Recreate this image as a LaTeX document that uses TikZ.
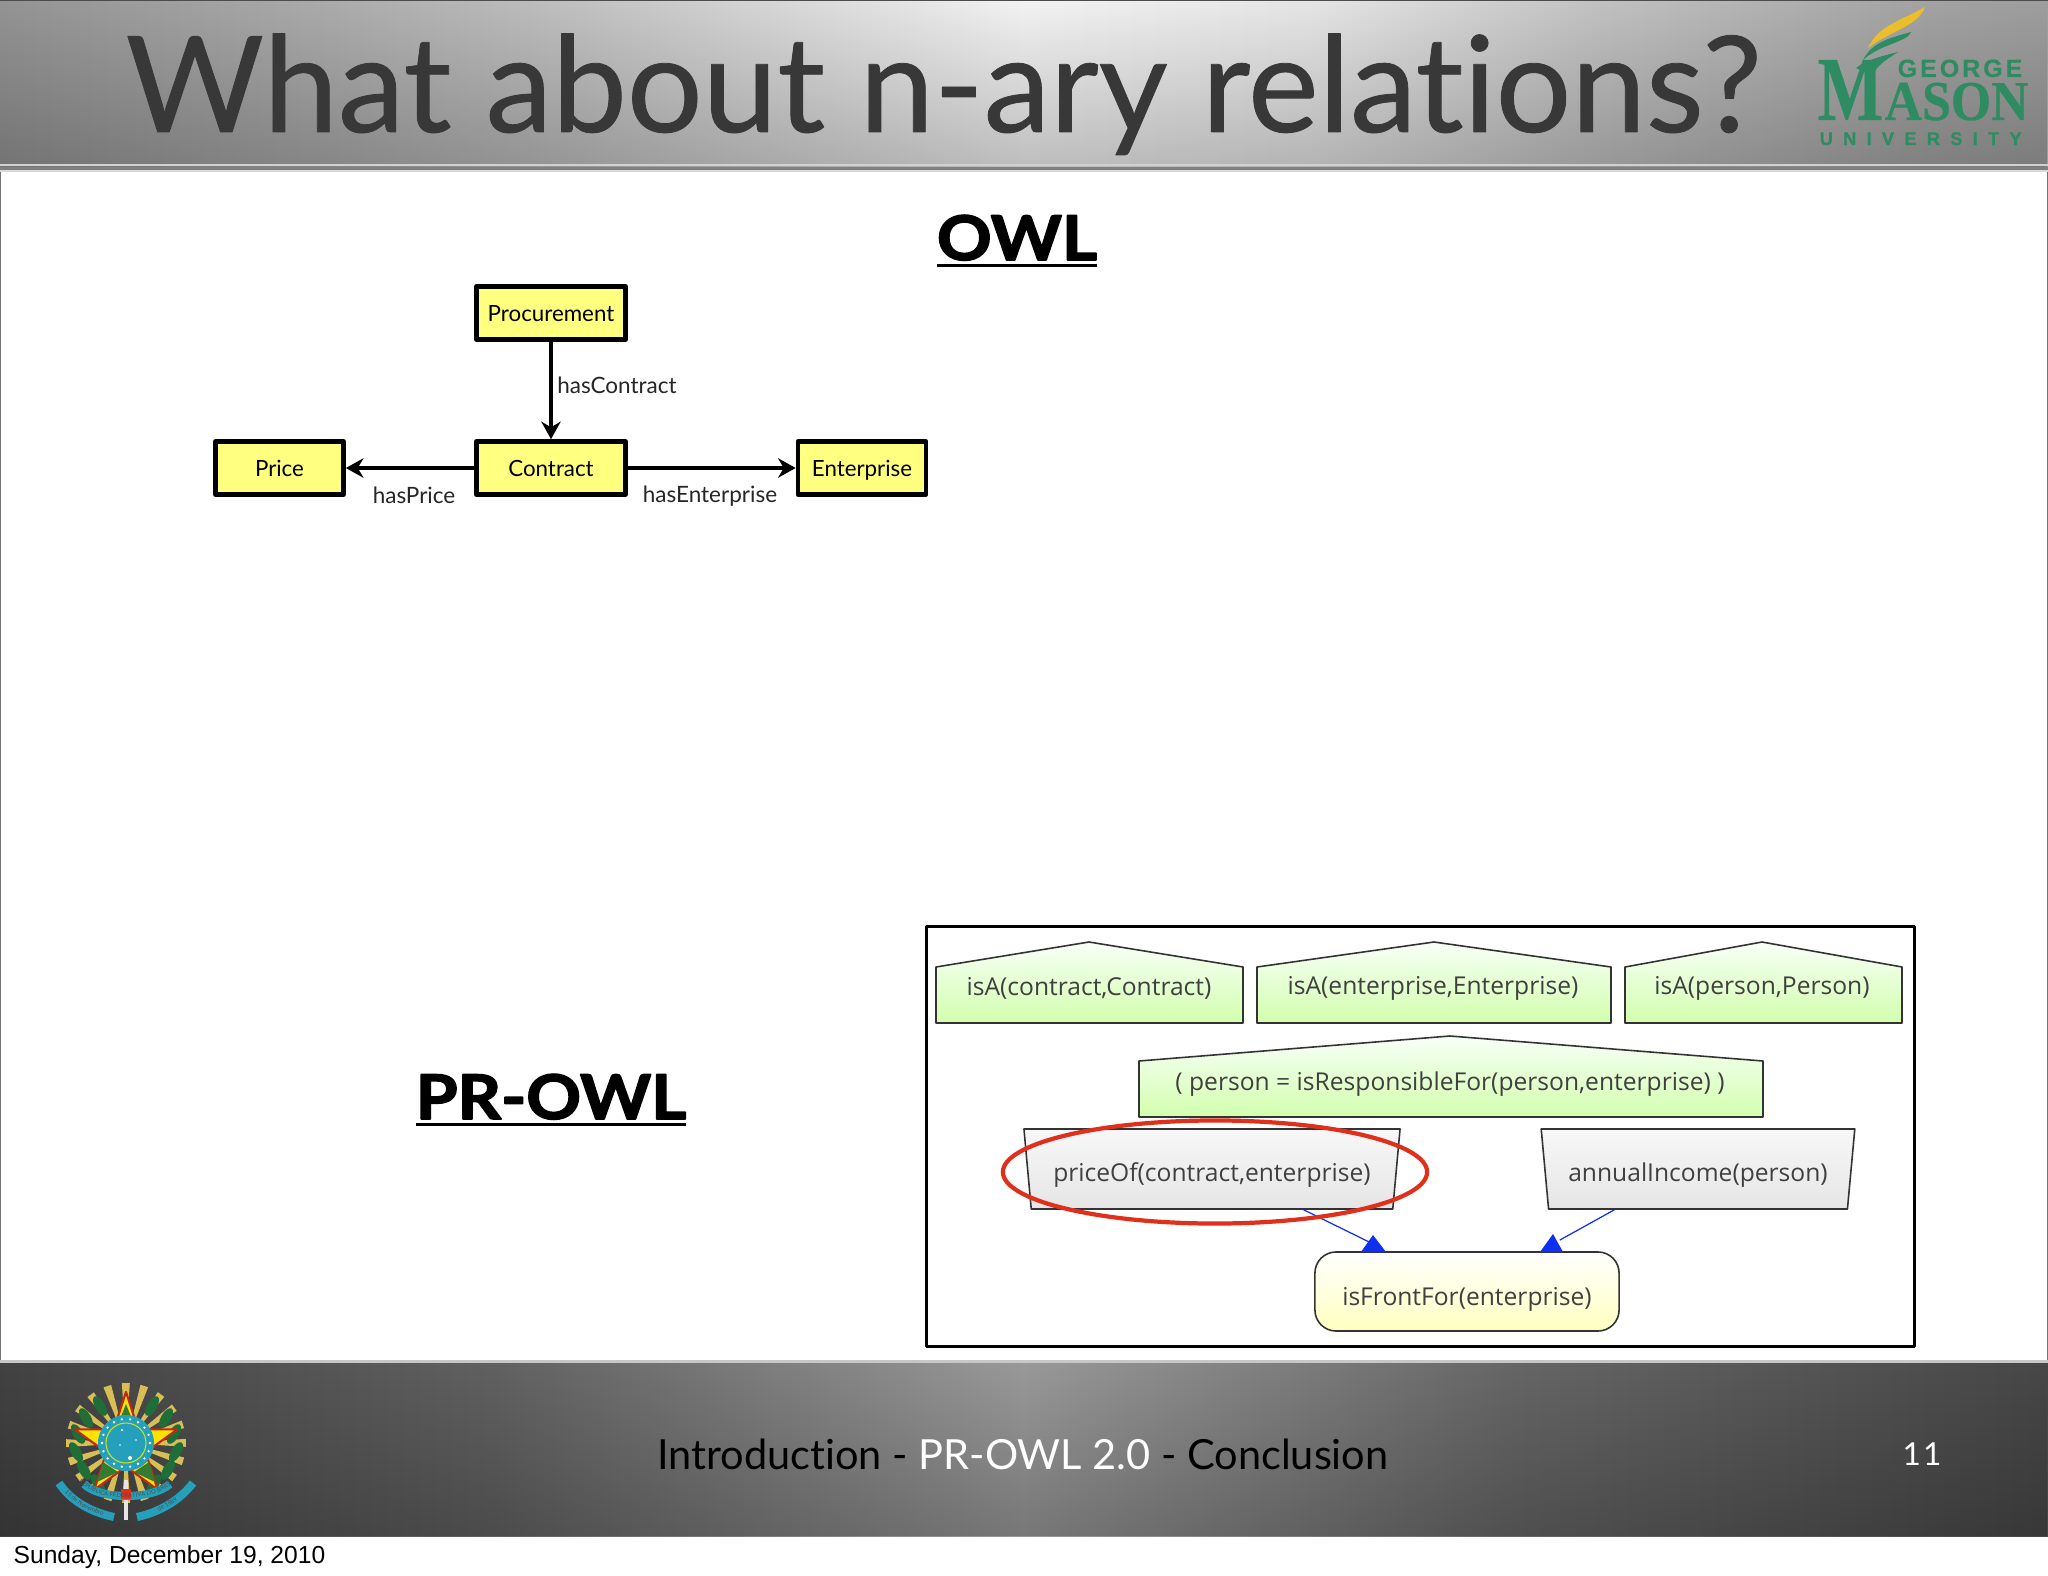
\documentclass[tikz,border=0pt]{standalone}
\usepackage{fontspec}
\setmainfont{Lato}[Ligatures=NoCommon,BoldFeatures={FakeBold=2.5}]
\newfontfamily\titlefont{Lato}[Ligatures=NoCommon,FakeBold=0.6]
\newfontfamily\datefont{Liberation Sans}
\newfontfamily\graphfont{Open Sans}
\newfontfamily\logoserif{Liberation Serif}[BoldFeatures={FakeBold=0.5}]
\newfontfamily\logosans{Liberation Sans}[LetterSpace=12,BoldFeatures={FakeBold=0.4}]
\newfontfamily\logouni{Liberation Sans}[LetterSpace=56,BoldFeatures={FakeBold=0.4}]
\usetikzlibrary{arrows.meta,shapes.geometric,fadings,decorations.text}

\pgfdeclarehorizontalshading{headband}{100bp}{color(0bp)=(black!42);color(25bp)=(black!42);color(32bp)=(black!34);color(38bp)=(black!26);color(50bp)=(black!5);color(57bp)=(black!10);color(64bp)=(black!24);color(72bp)=(black!36);color(75bp)=(black!38);color(100bp)=(black!38)}
\pgfdeclarehorizontalshading{footband}{100bp}{color(0bp)=(black!74);color(25bp)=(black!74);color(37bp)=(black!62);color(50bp)=(black!40);color(62bp)=(black!60);color(75bp)=(black!72);color(100bp)=(black!72)}
\tikzfading[name=banddark, top color=transparent!100, bottom color=transparent!78]

\newcommand{\heavyline}[1]{\scalebox{1.1}[1]{\setbox0=\hbox{#1}\rlap{\rule[-2pt]{\wd0}{1pt}}\box0}}

\definecolor{boxyellow}{HTML}{FFFF80}
\definecolor{masongreen}{HTML}{2E8B62}
\definecolor{masongold}{HTML}{EDBE2C}
\definecolor{ringred}{HTML}{E0301C}
\definecolor{edgeblue}{HTML}{1030F0}
\definecolor{crestblue}{HTML}{25A0BC}
\definecolor{crestgreen}{HTML}{1F6E38}
\definecolor{crestgold}{HTML}{D8BE55}

\tikzset{
  classbox/.style={draw=black,fill=boxyellow,line width=1.3pt,minimum height=0.53cm,inner sep=0pt,text height=6pt,text depth=1.4pt,font=\fontsize{6.35}{8}\selectfont},
  edgelabel/.style={font=\fontsize{6.4}{8}\selectfont,text=black!85,inner sep=0pt},
  classarrow/.style={line width=0.9pt,-{Stealth[length=5pt,width=5.5pt]}},
  housebox/.style={draw=black!80,line width=0.45pt,top color=green!3!white,bottom color=green!55!yellow!32!white},
  housetext/.style={font=\graphfont\fontsize{7}{8}\selectfont,text=black!75,inner sep=0pt},
  randombox/.style={trapezium,shape border rotate=180,trapezium stretches=true,trapezium angle=76,draw=black!80,line width=0.45pt,minimum height=0.8cm,inner sep=0pt,top color=black!3,bottom color=black!10,text height=7.3pt,text depth=0pt,font=\graphfont\fontsize{7}{8}\selectfont,text=black!75},
  residentbox/.style={draw=black!80,line width=0.45pt,rounded corners=6pt,top color=white,bottom color=yellow!25,inner sep=0pt,minimum width=3.04cm,minimum height=0.79cm,text height=8pt,text depth=0pt,font=\graphfont\fontsize{7}{8}\selectfont,text=black!75},
  flowline/.style={draw=edgeblue,line width=0.35pt},
  bigtitle/.style={anchor=base,font=\bfseries\fontsize{17.5}{19}\selectfont,inner sep=0pt},
  crestleaf/.style={fill=crestgreen,ellipse,inner sep=0pt,minimum width=0.22cm,minimum height=0.1cm}
}

\begin{document}
\begin{tikzpicture}[x=0.01cm,y=-0.01cm,line join=round]
	\useasboundingbox (0,0) rectangle (2048,1576);
	\fill[white] (0,0) rectangle (2048,1576);

	% --- Page frame and bands ---
	\draw[black!55,line width=0.5pt] (0.5,170)--(0.5,1362);
	\draw[black!55,line width=0.5pt] (2047.5,170)--(2047.5,1362);
	\shade[shading=headband] (0,0) rectangle (2048,170);
	\fill[black,path fading=banddark] (0,0) rectangle (2048,170);
	\fill[black!70] (0,0) rectangle (2048,1.5);
	\fill[black!18] (0,164) rectangle (2048,166);
	\fill[black!50] (0,167) rectangle (2048,170);
	\fill[black!15] (0,170) rectangle (2048,172);
	\fill[black!22] (0,1360) rectangle (2048,1363);
	\shade[shading=footband] (0,1363) rectangle (2048,1536);
	\fill[black,path fading=banddark] (0,1363) rectangle (2048,1536);

	% --- Title and bottom texts ---
	\node[anchor=base west,inner sep=0pt,text=black!78,font=\titlefont\fontsize{38}{40}\selectfont] (title) at (125,132) {What about n-ary relations?};
	\node[anchor=base,inner sep=0pt,font=\fontsize{11.8}{14}\selectfont] (footer) at (1023,1469) {Introduction - \textcolor{white}{PR-OWL 2.0} - Conclusion};
	\node[inner sep=0pt,text=white,font=\fontsize{9}{11}\selectfont] (pagenum) at (1922,1454) {1\kern0.6pt 1};
	\node[anchor=base west,inner sep=0pt,font=\datefont\fontsize{7}{9}\selectfont] (datetext) at (13,1563) {Sunday, December 19, 2010};

	% --- OWL part ---
	\node[bigtitle] (owltitle) at (1017,260) {\heavyline{OWL}};
	\node[classbox,minimum width=1.49cm] (procurement) at (551,313) {Procurement};
	\node[classbox,minimum width=1.49cm] (contract) at (551,468) {Contract};
	\node[classbox,minimum width=1.28cm] (price) at (279.5,468) {Price};
	\node[classbox,minimum width=1.28cm] (enterprise) at (862,468) {Enterprise};
	\draw[classarrow] (procurement)--(contract);
	\draw[classarrow] (contract)--(price);
	\draw[classarrow] (contract)--(enterprise);
	\node[edgelabel] (hascontract) at (617,385) {hasContract};
	\node[edgelabel] (hasprice) at (414,495) {hasPrice};
	\node[edgelabel] (hasenterprise) at (710,496) {hasEnterprise};

	% --- PR-OWL part ---
	\node[bigtitle] (prowltitle) at (551,1119) {\heavyline{PR-OWL}};
	\node[draw=black,line width=1pt,inner sep=0pt,minimum width=9.87cm,minimum height=4.2cm] (mfragframe) at (1420.5,1136.5) {};

	\draw[housebox] (936,1023)--(936,967)--(1089,942)--(1243,967)--(1243,1023)--cycle;
	\draw[housebox] (1257,1023)--(1257,967)--(1434,942)--(1611,967)--(1611,1023)--cycle;
	\draw[housebox] (1625,1023)--(1625,967)--(1762,942)--(1902,967)--(1902,1023)--cycle;
	\draw[housebox] (1139,1117)--(1139,1061)--(1450,1036)--(1763,1061)--(1763,1117)--cycle;
	\node[housetext] (isacontract) at (1089,988) {isA(contract,Contract)};
	\node[housetext] (isaenterprise) at (1433,988) {isA(enterprise,Enterprise)};
	\node[housetext] (isaperson) at (1762,988) {isA(person,Person)};
	\node[housetext] (responsible) at (1450,1084) {( person = isResponsibleFor(person,enterprise) )};

	\node[randombox,minimum width=3.78cm] (priceof) at (1212,1169) {priceOf(contract,enterprise)};
	\node[randombox,minimum width=3.14cm] (annualincome) at (1698,1169) {annualIncome(person)};
	\node[residentbox] (isfrontfor) at (1467,1291.5) {isFrontFor(enterprise)};
	\draw[flowline,shorten >=4.5pt] (priceof.-24.4)--(isfrontfor.153.7);
	\draw[flowline,shorten >=6.5pt] (annualincome.206.3)--(isfrontfor.29.8);
	\fill[edgeblue] (1361,1252)--(1373,1235)--(1386,1252)--cycle;
	\fill[edgeblue] (1540,1252)--(1553,1234)--(1563,1252)--cycle;
	\node[draw=ringred,line width=1.2pt,ellipse,inner sep=0pt,minimum width=4.24cm,minimum height=1.03cm] (pricering) at (1215,1172) {};

	% --- Mason logo ---
	\fill[masongold] (1868,48) .. controls (1878,26) and (1898,22) .. (1925,7) .. controls (1918,26) and (1892,30) .. (1868,48)--cycle;
	\fill[masongreen] (1863,60) .. controls (1872,42) and (1890,38) .. (1911,32) .. controls (1908,42) and (1880,44) .. (1863,60)--cycle;
	\fill[masongreen] (1856,68) .. controls (1866,60) and (1882,56) .. (1898,52) .. controls (1886,60) and (1878,64) .. (1872,76)--cycle;
	\node[anchor=base west,inner sep=0pt,text=masongreen,font=\logoserif\bfseries\fontsize{26}{28}\selectfont] (logom) at (1817,120) {\scalebox{0.76}[1]{M}};
	\node[anchor=base west,inner sep=0pt,text=masongreen,font=\logoserif\bfseries\fontsize{16}{18}\selectfont] (logoason) at (1884,120) {\scalebox{0.92}[1]{ASON}};
	\node[anchor=base west,inner sep=0pt,text=masongreen,font=\logosans\bfseries\fontsize{7.1}{8}\selectfont] (logogeorge) at (1897,77) {GEORGE};
	\node[anchor=base west,inner sep=0pt,text=masongreen,font=\logouni\bfseries\fontsize{5.2}{6}\selectfont] (logouniv) at (1819,145) {UNIVERSITY};

	% --- Coat of arms ---
	\foreach \a in {0,18,...,342}
		\fill[crestgold] (126,1443)--++(\a-4:60)--++(\a+90:8)--cycle;
	\foreach \a/\b in {100/1406,86/1418,78/1434,76/1452,84/1470,98/1484}
		\node[crestleaf,rotate=-60] at (\a,\b) {};
	\foreach \a/\b in {152/1406,166/1418,174/1434,176/1452,168/1470,154/1484}
		\node[crestleaf,rotate=60] at (\a,\b) {};
	\draw[white!80!gray,line width=1pt] (126,1480)--(126,1520);
	\node[star,star points=5,star point ratio=2.618,draw=ringred!85!black,fill=yellow!85!orange,line width=0.6pt,inner sep=0pt,minimum size=1.08cm] (creststar) at (126,1446) {};
	\fill[crestgreen!90!yellow] (126,1404)--(134,1424)--(118,1424)--cycle;
	\fill[crestgreen!90!yellow] (97,1482)--(103,1462)--(118,1472)--cycle;
	\fill[crestgreen!90!yellow] (155,1482)--(149,1462)--(134,1472)--cycle;
	\fill[crestblue] (126,1443) circle (28);
	\foreach \a in {0,20,...,340}
		\fill[white] (126,1443) ++(\a:24) circle (1.3);
	\draw[yellow!80!green,line width=0.3pt] (126,1443) circle (20);
	\fill[white] (122,1430) circle (1.2) (130,1458) circle (2) (120,1445) circle (0.9) (136,1440) circle (0.8);
	\draw[crestblue,line width=2.3pt] (59,1483) .. controls (70,1500) and (90,1512) .. (114,1517);
	\draw[crestblue,line width=2.3pt] (137,1517) .. controls (160,1512) and (180,1500) .. (193,1483);
	\draw[crestblue,line width=2.3pt] (84,1484) .. controls (100,1500) and (152,1500) .. (170,1484);
	\fill[ringred] (121,1489) rectangle (131,1499);
	\path[decorate,decoration={text along path,text align=center,raise=-0.4pt,text={|\fontsize{1.7}{2}\selectfont\color{black!70}|REPUBLICA FEDERATIVA DO BRASIL}}] (84,1484) .. controls (100,1500) and (152,1500) .. (170,1484);
	\path[decorate,decoration={text along path,text align=center,raise=-0.4pt,text={|\fontsize{1.7}{2}\selectfont\color{black!70}|15 de Novembro}}] (59,1483) .. controls (70,1500) and (90,1512) .. (114,1517);
	\path[decorate,decoration={text along path,text align=center,raise=-0.4pt,text={|\fontsize{1.7}{2}\selectfont\color{black!70}|de 1889}}] (137,1517) .. controls (160,1512) and (180,1500) .. (193,1483);
\end{tikzpicture}
\end{document}
